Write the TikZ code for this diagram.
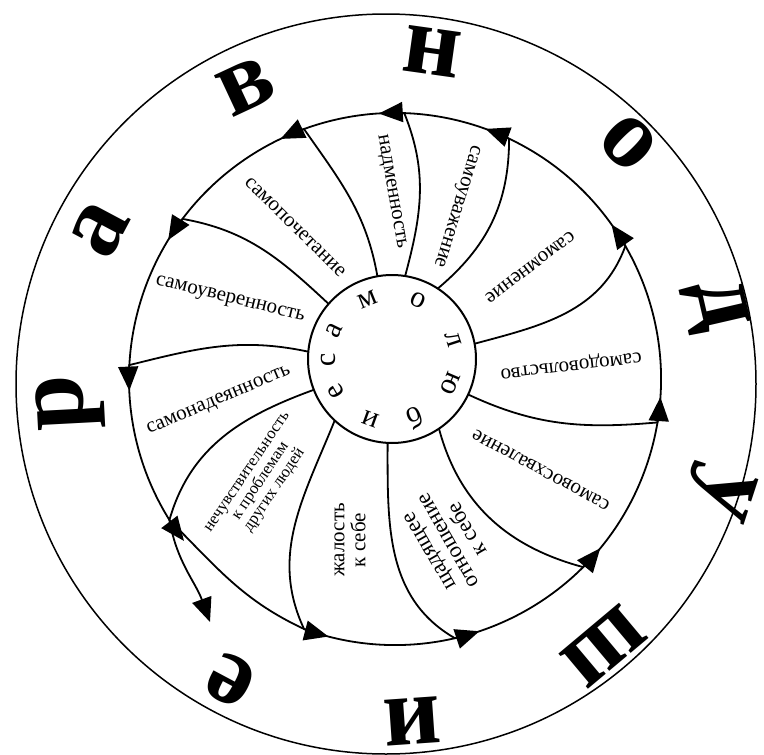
\documentclass[tikz,border=0pt]{standalone}
\usepackage{fontspec}
\setmainfont{Liberation Serif}
\usetikzlibrary{arrows.meta,calc}

\tikzset{
  line/.style={line width=1.8pt},
  tip/.style={-{Triangle[length=24pt,width=20pt]}},
  word/.style={font=\fontsize{21}{22}\selectfont},
  lines/.style={font=\fontsize{21}{21}\selectfont,align=center},
  smalllines/.style={font=\fontsize{16.5}{16.5}\selectfont,align=center},
  bigletter/.style={font=\fontsize{100}{100}\bfseries\selectfont,inner sep=0pt},
  letter/.style={font=\fontsize{30}{30}\selectfont,inner sep=0pt}
}

\begin{document}
\begin{tikzpicture}[x=1pt,y=1pt]
\useasboundingbox (0,0) rectangle (764,-755);
\coordinate (oc) at (386,-384);
\coordinate (rc) at (395,-379);
\coordinate (ic) at (392,-359);

\draw[line width=1.5pt] (oc) circle[radius=370pt];
\draw[line width=2pt] (ic) circle[radius=84pt];

% spokes: number / angle on inner circle / angle on ring / out / in
\foreach \n/\a/\b/\o/\i in {1/100/110/100/305, 2/81/88/75/292,
    3/57/64.6/40/270, 4/10.5/30/15/250, 5/-25/-9.4/-25/185,
    6/-56/-45/-75/165, 7/-93/-77/-90/150, 8/-133/-110/248/115,
    9/201.5/212/200/74, 10/175/177/168/14, 11/139/143/137/350}{
  \coordinate (s\n) at ($(ic)+(\a:84)$);
  \coordinate (e\n) at ($(rc)+(\b:266)$);
  \draw[line,tip] (s\n) to[out=\o,in=\i] (e\n)
    arc[start angle=\b,delta angle=5.5,radius=266pt];
}

% ring
\draw[line] (e8) arc[start angle=-110,end angle=212,radius=266pt];
\draw[line] (e9) to[out=-45,in=155] (e8);
\coordinate (spur) at (210,-622);
\draw[line,tip] (e9) to[out=-80,in=110] (spur);

% sectors
\node[word,rotate=-13.7] (uver) at (230,-300) {самоуверенность};
\node[word,rotate=-44.6] (poch) at (295,-227) {самопочетание};
\node[word,rotate=-80.2] (nadm) at (391,-192) {надменность};
\node[word,rotate=-107.2] (uvaz) at (456,-206) {самоуважение};
\node[word,rotate=217.2] (mnen) at (530,-267) {самомнение};
\node[word,rotate=186.7] (dovo) at (571,-364) {самодовольство};
\node[word,rotate=151.7] (vosh) at (541,-470) {самовосхваление};
\node[lines,font=\fontsize{22.5}{22}\selectfont,rotate=120] (shch) at (449,-540) {щадящее\\отношение\\к себе};
\node[lines,rotate=90] (zhal) at (350,-540) {жалость\\к себе};
\node[smalllines,rotate=56] (nech) at (262,-482) {нечувствительность\\к проблемам\\других людей};
\node[word,rotate=23] (nade) at (219,-401) {самонадеянность};

% inner word
\foreach \c/\t in {с/181, а/154, м/112, о/66, л/18, ю/-23, б/-68.5, и/-110, е/-150}
  \node[letter,rotate=\t-90] at ($(ic)+(\t:64)$) {\c};

% outer word
\foreach \c/\x/\y/\r in {р/70/402/93, а/100/230/62, в/246/86/25, н/432/52/-8,
    о/628/143/-45, д/715/306/-77, у/719/492/-108, ш/604/646/-140,
    и/412/721/-176, е/231/680/152}
  \node[bigletter,rotate=\r] at (\x,-\y) {\c};
\end{tikzpicture}
\end{document}
